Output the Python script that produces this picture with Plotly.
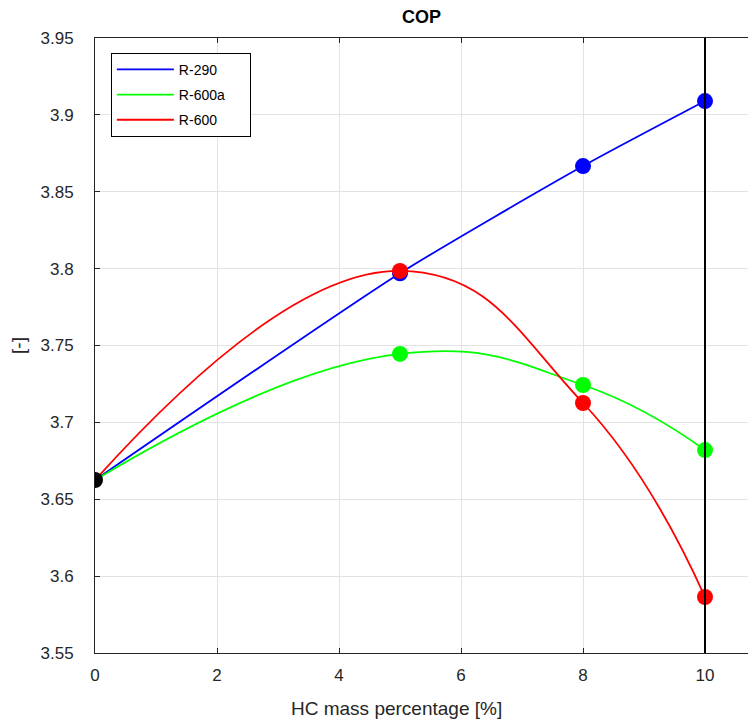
import plotly.graph_objects as go

# Data
x_pct = [0, 5, 8, 10]
cop_r290 = [3.6625, 3.797, 3.8667, 3.909]
cop_r600a = [3.6625, 3.7445, 3.7243, 3.682]
cop_r600 = [3.6625, 3.7985, 3.7126, 3.5864]
series_names = ["R-290", "R-600a", "R-600"]
series_colors = ["#0000FF", "#00FF00", "#FF0000"]
base_x = [0]
base_cop = [3.6625]
vline_x = 10
y_ticks = [3.55, 3.6, 3.65, 3.7, 3.75, 3.8, 3.85, 3.9, 3.95]
y_ticktext = ["3.55", "3.6", "3.65", "3.7", "3.75", "3.8", "3.85", "3.9", "3.95"]
x_ticks = [0, 2, 4, 6, 8, 10]
title_text = "COP"
x_title = "HC mass percentage [%]"
y_title = "[-]"

fig = go.Figure()
all_series = [cop_r290, cop_r600a, cop_r600]
smooth = [0.6, 1.3, 1.3]
pad = "\u00a0" * 5

for name, col, ys, sm in zip(series_names, series_colors, all_series, smooth):
    fig.add_trace(go.Scatter(x=x_pct, y=ys, mode="lines", name=name + pad, legendgroup=name,
                             line=dict(color=col, width=1.8, shape="spline", smoothing=sm),
                             showlegend=True))
for name, col, ys in zip(series_names, series_colors, all_series):
    fig.add_trace(go.Scatter(x=x_pct[1:], y=ys[1:], mode="markers", name=name,
                             marker=dict(color=col, size=16), showlegend=False))
fig.add_trace(go.Scatter(x=base_x, y=base_cop, mode="markers",
                         marker=dict(color="black", size=16), showlegend=False))

fig.add_shape(type="line", xref="x", yref="paper", x0=vline_x, x1=vline_x, y0=0, y1=1,
              line=dict(color="black", width=2))

axis_col = "#262626"
fig.update_layout(
    width=756, height=722,
    margin=dict(l=87, r=8, t=30, b=77),
    paper_bgcolor="white", plot_bgcolor="white",
    font=dict(family="Liberation Sans, Arial, sans-serif", color=axis_col, size=17),
    showlegend=True,
    legend=dict(x=0.024, y=0.976, xanchor="left", yanchor="top",
                bgcolor="white", bordercolor="black", borderwidth=1,
                font=dict(size=14, color="black"), itemwidth=57,
                traceorder="grouped", tracegroupgap=4),
)
fig.add_annotation(text="<b>" + title_text + "</b>", xref="paper", yref="paper",
                   x=(421 - 95) / 661, y=1 + 21 / 615, xanchor="center", yanchor="middle",
                   showarrow=False, font=dict(size=18, color="black"))
fig.add_annotation(text=x_title, xref="paper", yref="paper",
                   x=(396 - 95) / 661, y=-(708 - 653) / 615, xanchor="center", yanchor="middle",
                   showarrow=False, font=dict(size=19, color=axis_col))
fig.update_xaxes(range=[0, 10.836], tickvals=x_ticks, ticks="inside", ticklen=5,
                 tickcolor=axis_col, showline=True, linecolor=axis_col, linewidth=1,
                 mirror="ticks", showgrid=True, gridcolor="#E3E3E3", zeroline=False,
                 ticklabelstandoff=7, automargin=False)
fig.update_yaxes(range=[3.55, 3.95], tickvals=y_ticks, ticktext=y_ticktext,
                 ticks="inside", ticklen=5, tickcolor=axis_col,
                 showline=True, linecolor=axis_col, linewidth=1, mirror="ticks",
                 showgrid=True, gridcolor="#E3E3E3", zeroline=False,
                 ticklabelstandoff=17, automargin=False,
                 title=dict(text=y_title, font=dict(size=19), standoff=14))

fig.write_html("out.html")
